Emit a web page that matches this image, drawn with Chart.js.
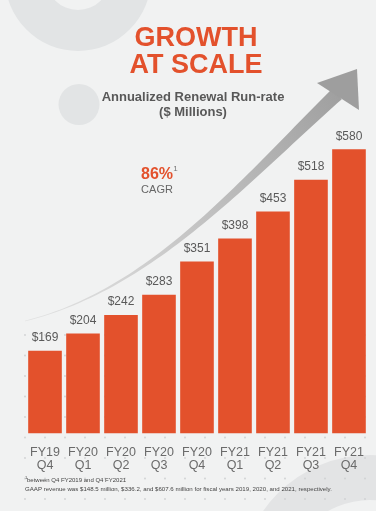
<!DOCTYPE html>
<html>
<head>
<meta charset="utf-8">
<script src="https://cdn.jsdelivr.net/npm/chart.js@4"></script>
<style>
  html, body { margin: 0; padding: 0; background: #f1f2f2; }
  #wrap { width: 376px; height: 511px; position: relative; }
</style>
</head>
<body>
<div id="wrap"><canvas id="chart"></canvas></div>
<script>
// quarters on the x axis (two lines each)
const quarters = [
  ['FY19', 'Q4'], ['FY20', 'Q1'], ['FY20', 'Q2'], ['FY20', 'Q3'], ['FY20', 'Q4'],
  ['FY21', 'Q1'], ['FY21', 'Q2'], ['FY21', 'Q3'], ['FY21', 'Q4']
];
// annualized renewal run-rate, $ millions
const runRate = [169, 204, 242, 283, 351, 398, 453, 518, 580];

const titleLines = ['GROWTH', 'AT SCALE'];
const subtitleLines = ['Annualized Renewal Run-rate', '($ Millions)'];
const cagrText = '86%';
const footnotes = [
  'between Q4 FY2019 and Q4 FY2021',
  'GAAP revenue was $148.5 million, $336.2, and $607.6 million for fiscal years 2019, 2020, and 2021, respectively.'
];

const ORANGE = '#e3512c';
const FONT = '"Liberation Sans", Arial, sans-serif';

// background shapes, dot grid and the big growth arrow
const backdrop = {
  id: 'backdrop',
  beforeDraw(chart) {
    const ctx = chart.ctx;
    ctx.save();
    ctx.fillStyle = '#f1f2f2';
    ctx.fillRect(0, 0, chart.width, chart.height);

    // ring top-left
    ctx.fillStyle = '#e2e4e5';
    ctx.beginPath();
    ctx.arc(78, -22, 73, 0, Math.PI * 2);
    ctx.arc(78, -22, 32, 0, Math.PI * 2, true);
    ctx.fill();
    // small dot
    ctx.beginPath();
    ctx.arc(79, 104.5, 20.5, 0, Math.PI * 2);
    ctx.fill();
    // ring bottom-right
    ctx.fillStyle = '#e3e4e5';
    ctx.beginPath();
    ctx.arc(370, 585, 130, 0, Math.PI * 2);
    ctx.arc(370, 585, 85, 0, Math.PI * 2, true);
    ctx.fill();

    // dot grid
    ctx.fillStyle = '#cfd1d2';
    for (let y = 335; y < 505; y += 20.5) {
      for (let x = 25; x < 380; x += 20) {
        ctx.beginPath();
        ctx.arc(x, y, 0.9, 0, Math.PI * 2);
        ctx.fill();
      }
    }

    // arrow shaft: cubic curve getting thicker to the right
    const p0 = [25, 321], p1 = [150, 290], p2 = [240, 185], p3 = [337, 94];
    const pt = t => {
      const u = 1 - t;
      return [
        u*u*u*p0[0] + 3*u*u*t*p1[0] + 3*u*t*t*p2[0] + t*t*t*p3[0],
        u*u*u*p0[1] + 3*u*u*t*p1[1] + 3*u*t*t*p2[1] + t*t*t*p3[1]
      ];
    };
    const left = [], right = [];
    const n = 60;
    for (let i = 0; i <= n; i++) {
      const t = i / n;
      const a = pt(Math.max(0, t - 0.01)), b = pt(Math.min(1, t + 0.01));
      let dx = b[0] - a[0], dy = b[1] - a[1];
      const len = Math.hypot(dx, dy);
      dx /= len; dy /= len;
      const w = (0.6 + 13.5 * Math.pow(t, 1.6)) / 2;
      const p = pt(t);
      left.push([p[0] - dy * w, p[1] + dx * w]);
      right.push([p[0] + dy * w, p[1] - dx * w]);
    }
    const grad = ctx.createLinearGradient(25, 321, 337, 94);
    grad.addColorStop(0, 'rgba(210,210,210,0.5)');
    grad.addColorStop(0.5, '#c4c4c4');
    grad.addColorStop(1, '#a0a0a0');
    ctx.fillStyle = grad;
    ctx.beginPath();
    left.forEach((p, i) => i ? ctx.lineTo(p[0], p[1]) : ctx.moveTo(p[0], p[1]));
    right.reverse().forEach(p => ctx.lineTo(p[0], p[1]));
    ctx.closePath();
    ctx.fill();
    // arrow head
    ctx.fillStyle = '#9e9e9e';
    ctx.beginPath();
    ctx.moveTo(357, 69);
    ctx.lineTo(317, 83);
    ctx.lineTo(359, 110);
    ctx.closePath();
    ctx.fill();
    ctx.restore();
  }
};

// headings, value labels, CAGR note, footnotes
const annotations = {
  id: 'annotations',
  afterDraw(chart) {
    const ctx = chart.ctx;
    ctx.save();
    ctx.textAlign = 'center';
    ctx.textBaseline = 'middle';

    // value labels above bars
    const meta = chart.getDatasetMeta(0);
    ctx.fillStyle = '#595959';
    ctx.font = '12px ' + FONT;
    meta.data.forEach((bar, i) => {
      ctx.fillText('$' + runRate[i], bar.x, bar.y - 13);
    });

    // title
    ctx.fillStyle = ORANGE;
    ctx.font = 'bold 27px ' + FONT;
    ctx.fillText(titleLines[0], 196, 39);
    ctx.fillText(titleLines[1], 196, 66);

    // subtitle
    ctx.fillStyle = '#585858';
    ctx.font = 'bold 13px ' + FONT;
    ctx.fillText(subtitleLines[0], 193, 97);
    ctx.fillText(subtitleLines[1], 193, 112);

    // CAGR
    ctx.fillStyle = ORANGE;
    ctx.font = 'bold 16px ' + FONT;
    ctx.fillText(cagrText, 157, 174.5);
    ctx.fillStyle = '#777777';
    ctx.font = '8px ' + FONT;
    ctx.fillText('1', 175.5, 169);
    ctx.fillStyle = '#666666';
    ctx.font = '11px ' + FONT;
    ctx.fillText('CAGR', 157, 189.5);

    // footnotes
    ctx.textAlign = 'left';
    ctx.fillStyle = '#444444';
    ctx.font = '4px ' + FONT;
    ctx.fillText('1', 25, 478);
    ctx.font = '6px ' + FONT;
    ctx.fillText(footnotes[0], 27, 480);
    // fit second line to its width in the picture
    const target = 307;
    const w6 = ctx.measureText(footnotes[1]).width;
    ctx.font = (6 * target / w6).toFixed(2) + 'px ' + FONT;
    ctx.fillText(footnotes[1], 25, 489);
    ctx.restore();
  }
};

new Chart(document.getElementById('chart'), {
  type: 'bar',
  data: {
    labels: quarters,
    datasets: [{
      data: runRate,
      backgroundColor: ORANGE,
      borderWidth: 0,
      barPercentage: 0.885,
      categoryPercentage: 1.0
    }]
  },
  options: {
    responsive: true,
    maintainAspectRatio: false,
    animation: false,
    layout: { padding: { top: 90.5, left: 26, right: 1.5, bottom: 27.2 } },
    plugins: {
      legend: { display: false },
      tooltip: { enabled: false }
    },
    scales: {
      y: { display: false, min: 0, max: 700 },
      x: {
        grid: { display: false, drawTicks: false },
        border: { display: false },
        ticks: {
          color: '#6a6a6a',
          font: { family: FONT, size: 12.5, lineHeight: 1.05 },
          padding: 12,
          maxRotation: 0,
          autoSkip: false
        }
      }
    }
  },
  plugins: [backdrop, annotations]
});
</script>
</body>
</html>
